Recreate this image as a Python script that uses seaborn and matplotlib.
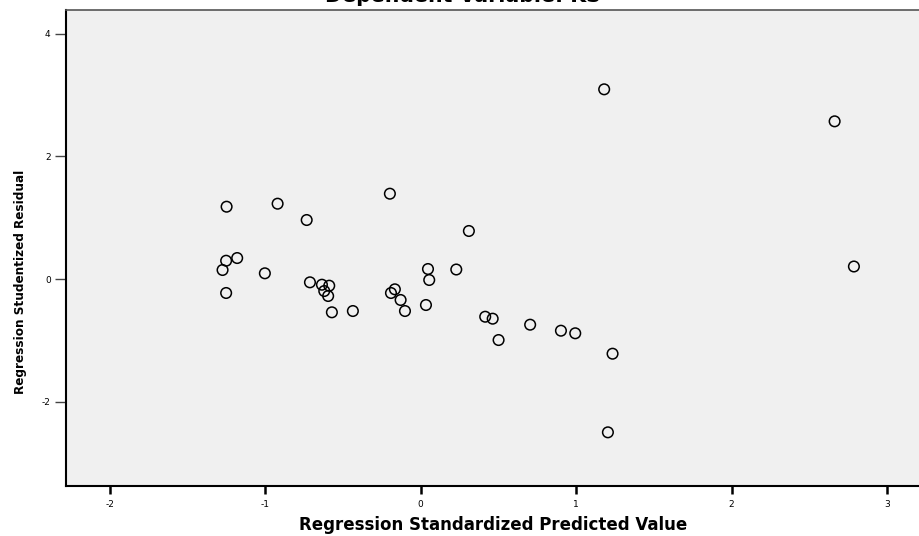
import os
import numpy as np
import pandas as pd
import matplotlib
matplotlib.use("Agg")
import matplotlib.pyplot as plt
from matplotlib import font_manager
import seaborn as sns

# standardized predicted value vs studentized residual
pred_std = [1.181, 2.663, 2.787, -0.197, -0.919, -1.247, -0.732, 0.311, -1.179, -1.250,
            -1.273, -1.001, -1.250, -0.711, -0.634, -0.587, -0.619, -0.594, -0.570, -0.435,
            -0.190, -0.165, -0.128, -0.100, 0.035, 0.048, 0.056, 0.230, 0.416, 0.464,
            0.502, 0.705, 0.903, 0.995, 1.235, 1.205]
resid_stud = [3.093, 2.571, 0.204, 1.391, 1.228, 1.179, 0.962, 0.783, 0.342, 0.298,
              0.147, 0.093, -0.228, -0.054, -0.093, -0.109, -0.196, -0.277, -0.543, -0.522,
              -0.228, -0.168, -0.342, -0.522, -0.424, 0.163, -0.016, 0.155, -0.615, -0.647,
              -0.995, -0.745, -0.843, -0.885, -1.218, -2.500]

x_ticks = [-2, -1, 0, 1, 2, 3]
y_ticks = [-2, 0, 2, 4]

df = pd.DataFrame({"pred": pred_std, "resid": resid_stud})

sns.set_style("white")
plt.rcParams["font.family"] = ["DejaVu Sans"]
plt.rcParams["text.color"] = "black"
plt.rcParams["axes.labelcolor"] = "black"
plt.rcParams["xtick.color"] = "black"
plt.rcParams["ytick.color"] = "black"


def find_narrow_bold():
    # condensed bold face for the y label, like the SPSS output
    wanted = ["liberationsansnarrow-bold.ttf", "dejavusanscondensed-bold.ttf"]
    fonts = font_manager.findSystemFonts()
    for name in wanted:
        for f in fonts:
            if os.path.basename(f).lower() == name:
                return font_manager.FontProperties(fname=f)
    return font_manager.FontProperties(family="DejaVu Sans", weight="bold",
                                       stretch="condensed")


fig = plt.figure(figsize=(9.2, 5.36), dpi=100)
ax = fig.add_axes([0.0717, 0.0933, 0.9283, 0.888])
ax.set_facecolor("#f0f0f0")

sns.scatterplot(data=df, x="pred", y="resid", ax=ax, s=58, marker="o",
                facecolors="none", edgecolor="black", linewidth=1.1, legend=False)

ax.set_xlim(-2.28, 3.212)
ax.set_ylim(-3.375, 4.386)
ax.set_xticks(x_ticks)
ax.set_yticks(y_ticks)
ax.set_xticklabels([str(v) for v in x_ticks])
ax.set_yticklabels([str(v) for v in y_ticks])

for side in ["left", "bottom"]:
    ax.spines[side].set_color("black")
    ax.spines[side].set_linewidth(1.5)
ax.spines["top"].set_color("#555555")
ax.spines["top"].set_linewidth(1.2)
ax.spines["right"].set_visible(False)

ax.tick_params(axis="x", bottom=True, direction="out", length=6, width=1.8,
               color="black", labelsize=6.5, pad=4)
ax.tick_params(axis="y", left=True, direction="out", length=8, width=1.0,
               color="#444444", labelsize=6.5, pad=3)

ax.set_xlabel("Regression Standardized Predicted Value", fontsize=12,
              fontweight="bold")
ax.xaxis.label.set_va("bottom")
ax.xaxis.set_label_coords(0.5, -0.1015)
narrow = find_narrow_bold()
narrow.set_size(9.6)
ax.set_ylabel("Regression Studentized Residual", fontproperties=narrow)
ax.yaxis.set_label_coords(-0.0457, 0.4286)

fig.text(463 / 920, 534.5 / 536, "Dependent Variable: KS", ha="center",
         va="baseline", fontsize=14.8, fontweight="bold")

fig.savefig("out.png", dpi=100)
